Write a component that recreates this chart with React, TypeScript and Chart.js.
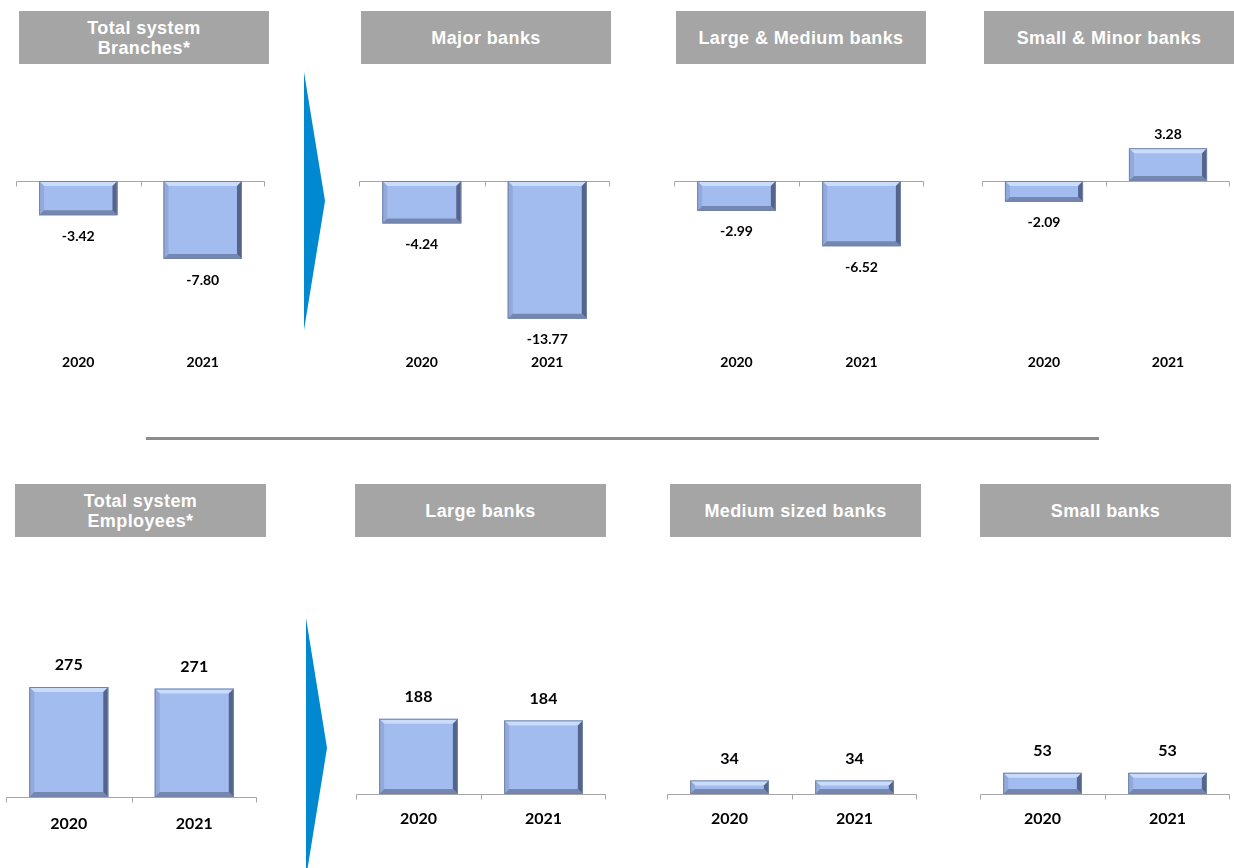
import React, { useEffect, useRef } from "react";
import { Chart, registerables } from "chart.js";

Chart.register(...registerables);

// ---------- DATA ----------
const years = ["2020", "2021"];

const branchesTotal = [-3.42, -7.8];
const branchesMajor = [-4.24, -13.77];
const branchesLargeMedium = [-2.99, -6.52];
const branchesSmallMinor = [-2.09, 3.28];

const employeesTotal = [275, 271];
const employeesLarge = [188, 184];
const employeesMedium = [34, 34];
const employeesSmall = [53, 53];

const branchTitles = ["Total system\nBranches*", "Major banks", "Large & Medium banks", "Small & Minor banks"];
const employeeTitles = ["Total system\nEmployees*", "Large banks", "Medium sized banks", "Small banks"];

// ---------- STYLE ----------
const NUM_FONT = "Lato, 'Open Sans', sans-serif";
const HEAD_FONT = "'Liberation Sans', Arial, sans-serif";
const BAR_FILL = "#A2BCEF";

type PanelProps = {
  values: number[];
  decimals: number;
  left: number;
  top: number;
  width: number;
  height: number;
  axisH: number;
  yMin: number;
  yMax: number;
  fontSize: number;
  tickPad: number;
  labelOffsetNeg: number;
  labelOffsetPos: number;
};

const zeroAxisPlugin = {
  id: "zeroAxis",
  beforeDatasetsDraw(chart: any) {
    const { ctx, chartArea, scales } = chart;
    const y0 = Math.round(scales.y.getPixelForValue(0)) + 0.5;
    const l = chartArea.left + 0.5;
    const r = chartArea.right - 0.5;
    const m = Math.round((chartArea.left + chartArea.right) / 2) + 0.5;
    ctx.save();
    ctx.strokeStyle = "#A6A6A6";
    ctx.lineWidth = 1;
    ctx.beginPath();
    ctx.moveTo(l, y0);
    ctx.lineTo(r, y0);
    [l, m, r].forEach((x) => {
      ctx.moveTo(x, y0);
      ctx.lineTo(x, y0 + 5);
    });
    ctx.stroke();
    ctx.restore();
  },
};

function poly(ctx: CanvasRenderingContext2D, pts: number[][], fill: string) {
  ctx.beginPath();
  ctx.moveTo(pts[0][0], pts[0][1]);
  for (let i = 1; i < pts.length; i++) ctx.lineTo(pts[i][0], pts[i][1]);
  ctx.closePath();
  ctx.fillStyle = fill;
  ctx.fill();
}

const bevelPlugin = {
  id: "bevel",
  afterDatasetsDraw(chart: any, _args: any, opts: any) {
    const { ctx } = chart;
    const meta = chart.getDatasetMeta(0);
    const data = chart.data.datasets[0].data as number[];
    ctx.save();
    meta.data.forEach((el: any, i: number) => {
      const { x, y, base, width } = el.getProps(["x", "y", "base", "width"], true);
      const L = x - width / 2;
      const R = x + width / 2;
      const T = Math.min(y, base);
      const B = Math.max(y, base);
      const b = Math.min(5, (B - T) / 2);
      poly(ctx, [[L, T], [R, T], [R - b, T + b], [L + b, T + b]], "#CADCFA");
      poly(ctx, [[L, T], [L + b, T + b], [L + b, B - b], [L, B]], "#92A9DA");
      poly(ctx, [[L, B], [R, B], [R - b, B - b], [L + b, B - b]], "#7487B0");
      poly(ctx, [[R, T], [R, B], [R - b, B - b], [R - b, T + b]], "#55648A");
      ctx.strokeStyle = "#7384AA";
      ctx.lineWidth = 1;
      ctx.strokeRect(L + 0.5, T + 0.5, width - 1, B - T - 1);

      const v = data[i];
      const txt = v.toFixed(opts.decimals);
      ctx.fillStyle = "#000";
      ctx.font = `bold ${opts.fontSize}px ${NUM_FONT}`;
      ctx.textAlign = "center";
      ctx.textBaseline = "middle";
      const ly = v >= 0 ? T - opts.offsetPos : B + opts.offsetNeg;
      ctx.fillText(txt, x, ly);
    });
    ctx.restore();
  },
};

function Panel(p: PanelProps) {
  const ref = useRef<HTMLCanvasElement>(null);
  useEffect(() => {
    if (!ref.current) return;
    const chart = new Chart(ref.current, {
      type: "bar",
      data: {
        labels: years,
        datasets: [
          {
            data: p.values,
            backgroundColor: BAR_FILL,
            borderWidth: 0,
            categoryPercentage: 1,
            barPercentage: 0.63,
          },
        ],
      },
      options: {
        responsive: false,
        maintainAspectRatio: false,
        animation: false,
        layout: { padding: 0 },
        plugins: {
          legend: { display: false },
          tooltip: { enabled: false },
          bevel: {
            decimals: p.decimals,
            fontSize: p.fontSize,
            offsetNeg: p.labelOffsetNeg,
            offsetPos: p.labelOffsetPos,
          },
        } as any,
        scales: {
          x: {
            grid: { display: false },
            border: { display: false },
            ticks: {
              color: "#000",
              padding: p.tickPad,
              font: { family: NUM_FONT, size: p.fontSize, weight: "bold" },
            },
            afterFit: (s: any) => {
              s.height = p.axisH;
            },
          },
          y: { display: false, min: p.yMin, max: p.yMax },
        },
      },
      plugins: [zeroAxisPlugin, bevelPlugin],
    });
    return () => chart.destroy();
  }, []);
  return (
    <canvas
      ref={ref}
      width={p.width}
      height={p.height}
      style={{ position: "absolute", left: p.left, top: p.top, width: p.width, height: p.height }}
    />
  );
}

function Header({ text, left, top, width }: { text: string; left: number; top: number; width: number }) {
  return (
    <div
      style={{
        position: "absolute",
        left,
        top,
        width,
        height: 53,
        background: "#A5A5A5",
        color: "#FFFFFF",
        fontFamily: HEAD_FONT,
        fontWeight: "bold",
        fontSize: 18,
        letterSpacing: "0.4px",
        lineHeight: "20px",
        display: "flex",
        alignItems: "center",
        justifyContent: "center",
        textAlign: "center",
        whiteSpace: "pre-line",
        boxSizing: "border-box",
      }}
    >
      {text}
    </div>
  );
}

export default function App() {
  useEffect(() => {
    document.body.style.margin = "0";
    document.body.style.overflow = "hidden";
  }, []);

  const topLefts = [16, 359, 674, 982];
  const topWidths = [249, 251, 250, 248];
  const topHeaders = [19, 361, 676, 984];
  const topSeries = [branchesTotal, branchesMajor, branchesLargeMedium, branchesSmallMinor];

  const botLefts = [6, 356, 667, 980];
  const botWidths = [251, 250, 250, 250];
  const botHeaders = [15, 355, 670, 980];
  const botSeries = [employeesTotal, employeesLarge, employeesMedium, employeesSmall];

  return (
    <div style={{ position: "relative", width: 1234, height: 868, background: "#fff", overflow: "hidden" }}>
      {branchTitles.map((t, i) => (
        <Header key={"bh" + i} text={t} left={topHeaders[i]} top={11} width={250} />
      ))}
      {employeeTitles.map((t, i) => (
        <Header key={"eh" + i} text={t} left={botHeaders[i]} top={484} width={251} />
      ))}

      {topSeries.map((s, i) => (
        <Panel
          key={"bp" + i}
          values={s}
          decimals={2}
          left={topLefts[i]}
          top={80}
          width={topWidths[i]}
          height={300}
          axisH={40}
          yMin={-15.9}
          yMax={10.1}
          fontSize={14}
          tickPad={6}
          labelOffsetNeg={21}
          labelOffsetPos={14}
        />
      ))}

      {botSeries.map((s, i) => (
        <Panel
          key={"ep" + i}
          values={s}
          decimals={0}
          left={botLefts[i]}
          top={600}
          width={botWidths[i]}
          height={250}
          axisH={i === 0 ? 53 : 56}
          yMin={0}
          yMax={i === 0 ? 492.5 : 485}
          fontSize={16}
          tickPad={i === 0 ? 9 : 7}
          labelOffsetNeg={22}
          labelOffsetPos={22}
        />
      ))}

      <svg
        width={1234}
        height={868}
        style={{ position: "absolute", left: 0, top: 0, pointerEvents: "none" }}
      >
        <polygon points="304,72 325,201 304,330" fill="#0088D0" />
        <polygon points="306,618 327,748 306,878" fill="#0088D0" />
        <rect x={146} y={437} width={953} height={3} fill="#8C8C8C" />
      </svg>
    </div>
  );
}
